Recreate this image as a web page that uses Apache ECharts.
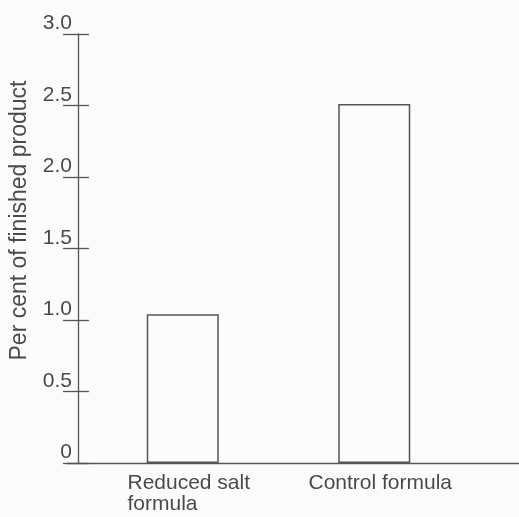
<!DOCTYPE html>
<html>
<head>
<meta charset="utf-8">
<script src="https://cdn.jsdelivr.net/npm/echarts@6/dist/echarts.min.js"></script>
<style>
html,body{margin:0;padding:0;background:#fbfbfb;}
#c{width:519px;height:517px;}
</style>
</head>
<body>
<div id="c"></div>
<script>
const categories = ['Reduced salt\nformula', 'Control formula'];
const values = [1.04, 2.51];
const yTicks = ['0', '0.5', '1.0', '1.5', '2.0', '2.5', '3.0'];
const yName = 'Per cent of finished product';

const ink = '#555';
const txt = '#4a4a4a';
const font = '"Liberation Sans", Arial, sans-serif';

const chart = echarts.init(document.getElementById('c'), null, {renderer: 'canvas'});
chart.setOption({
  backgroundColor: '#fbfbfb',
  animation: false,
  grid: [
    {left: 86, right: 49, top: 34, bottom: 54},
    {left: 67, right: 0, top: 34, bottom: 54}
  ],
  xAxis: [
    {
      type: 'category', gridIndex: 0, data: categories,
      axisLine: {show: false}, axisTick: {show: false},
      axisLabel: {
        interval: 0, margin: 10, color: txt, fontFamily: font, fontSize: 21,
        padding: [0, 0, 0, 12],
        formatter: v => v.split('\n').map(s => '{l|' + s + '}').join('\n'),
        rich: {l: {align: 'left', fontSize: 21, fontFamily: font, color: txt, lineHeight: 21}}
      }
    },
    {
      type: 'value', gridIndex: 1, min: 0, max: 1,
      axisLine: {show: true, lineStyle: {color: ink, width: 1.3}},
      axisTick: {show: false}, axisLabel: {show: false}, splitLine: {show: false}
    }
  ],
  yAxis: [
    {
      type: 'value', gridIndex: 0, position: 'left', min: 0, max: 3, interval: 0.5, offset: 9,
      name: yName, nameLocation: 'middle', nameGap: 47,
      nameTextStyle: {color: txt, fontFamily: font, fontSize: 23, padding: [0, 0, 0, 56]},
      axisLine: {show: true, lineStyle: {color: ink, width: 1.3}},
      axisTick: {show: true, length: 15, lineStyle: {color: ink, width: 1.3}},
      axisLabel: {
        margin: 6, color: txt, fontFamily: font, fontSize: 21,
        verticalAlign: 'bottom', align: 'right',
        formatter: (v) => yTicks[Math.round(v / 0.5)]
      },
      splitLine: {show: false}
    },
    {
      type: 'value', gridIndex: 0, position: 'left', min: 0, max: 3, interval: 0.5, offset: 9,
      axisLine: {show: false},
      axisTick: {show: true, inside: true, length: 11, lineStyle: {color: ink, width: 1.3}},
      axisLabel: {show: false}, splitLine: {show: false}
    },
    {
      type: 'value', gridIndex: 1, min: 0, max: 3, show: false
    }
  ],
  series: [{
    type: 'bar', xAxisIndex: 0, yAxisIndex: 0,
    data: values, barWidth: 72,
    itemStyle: {color: '#fbfbfb', borderColor: ink, borderWidth: 1.5}
  }]
});
</script>
</body>
</html>
